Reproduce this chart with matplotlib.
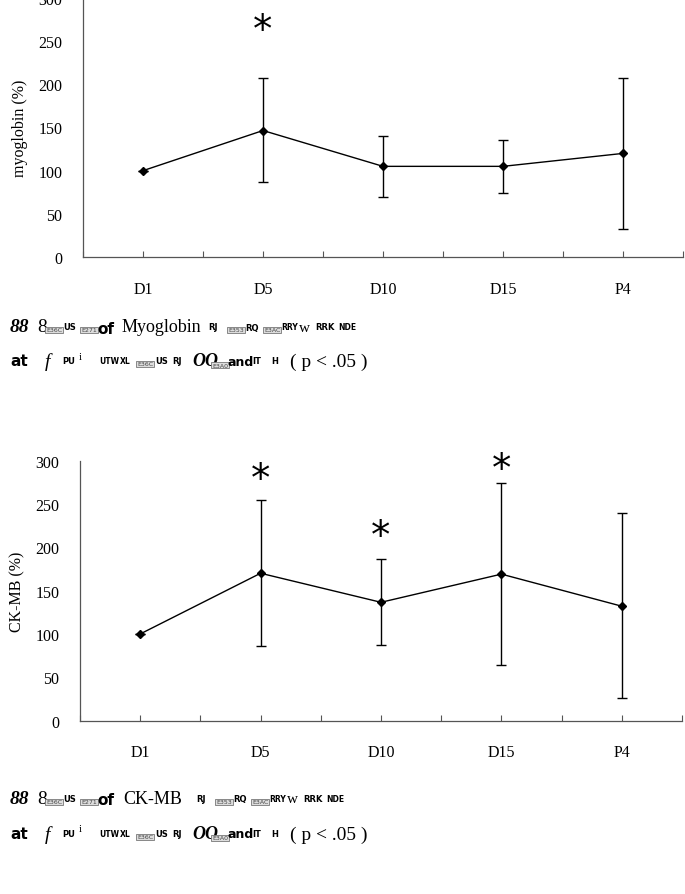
import numpy as np
import matplotlib
matplotlib.use('agg')
import matplotlib.pyplot as plt

## data
days = ["D1", "D5", "D10", "D15", "P4"]

myo_mean = [100, 146.5, 105, 105, 120]
myo_hi = [100, 207, 140, 136, 207]
myo_lo = [100, 87, 70, 74, 32]
myo_star = {"D5": 271}

ck_mean = [100, 170, 136.5, 169, 132]
ck_hi = [100, 255, 186, 274, 240]
ck_lo = [100, 86, 87.5, 64, 26]
ck_star = {"D5": 287, "D10": 221, "D15": 298}

W, H = 685, 895
serif = "Liberation Serif"

fig = plt.figure(figsize=(W/100, H/100), dpi=100)

def panel(rect, mean, hi, lo, stars, ylabel):
    ax = fig.add_axes(rect)
    x = np.arange(len(days))
    mean = np.array(mean); hi = np.array(hi); lo = np.array(lo)
    yerr = np.vstack([mean - lo, hi - mean])
    ax.errorbar(x, mean, yerr=yerr, color='black', lw=1.0, elinewidth=1.0,
                capsize=3.5, capthick=1.0, marker='D', markersize=4.2)
    ax.set_xlim(-0.5, len(days) - 0.5)
    ax.set_ylim(0, 300)
    ax.set_yticks(range(0, 301, 50))
    ax.set_xticks(x)
    ax.set_xticks(np.arange(-0.5, len(days), 1.0), minor=True)
    ax.set_xticklabels(days, fontfamily=serif, fontsize=11.5)
    for lab in ax.get_yticklabels():
        lab.set_fontfamily(serif); lab.set_fontsize(11.5)
    ax.tick_params(axis='x', which='both', direction='in', length=4, width=0.8, color='#555555', pad=17)
    ax.tick_params(axis='y', length=0, pad=15)
    ax.spines['top'].set_visible(False)
    ax.spines['right'].set_visible(False)
    for s in ('left', 'bottom'):
        ax.spines[s].set_color('#555555'); ax.spines[s].set_linewidth(0.9)
    ax.set_ylabel(ylabel, fontfamily=serif, fontsize=11.5, labelpad=7)
    # asterisk glyph sits high in its box, nudge down so its centre lands on ys
    for d, ys in stars.items():
        ax.annotate("*", (days.index(d), ys), xytext=(0, -5), textcoords='offset points',
                    ha='center', va='center', fontsize=28, fontfamily='DejaVu Sans')
    return ax

ax1 = panel([83/W, 1 - 258/H, 600/W, 259/H], myo_mean, myo_hi, myo_lo, myo_star, "myoglobin (%)")
ax2 = panel([80/W, 1 - 721.7/H, 602/W, 260.2/H], ck_mean, ck_hi, ck_lo, ck_star, "CK-MB (%)")

# captions (garbled glyph runs kept as in the source image)
def t(x, y, s, **kw):
    kw.setdefault('fontsize', 10)
    kw.setdefault('va', 'center')
    fig.text(x/W, 1 - y/H, s, **kw)

def g(x, y, s, size=6.5):
    t(x, y, s, fontsize=size, fontweight='bold')

def boxcode(x, y, s):
    fig.text(x/W, 1 - y/H, s, fontsize=4.5, va='center', color='#444444',
             bbox=dict(boxstyle='square,pad=0.15', fc='#dddddd', ec='#777777', lw=0.6))

def caption(y1, y2, name, nx, rx):
    t(10, y1, "88", fontfamily=serif, fontweight='bold', style='italic', fontsize=14)
    t(37, y1, "8", fontfamily=serif, fontsize=14)
    boxcode(46, y1 + 3, "E36C")
    g(63, y1, "US", 6)
    boxcode(81, y1 + 3, "E271")
    t(97, y1 + 1, "of", fontsize=11, fontweight='bold')
    t(nx, y1, name, fontfamily=serif, fontsize=13)
    g(rx, y1, "RJ", 6)
    boxcode(rx + 20, y1 + 3, "E353")
    g(rx + 37, y1, "RQ", 6)
    boxcode(rx + 56, y1 + 3, "E3AC")
    g(rx + 73, y1, "RRY", 5.5)
    t(rx + 91, y1, "w", fontfamily=serif, fontsize=11)
    g(rx + 107, y1, "RRK", 6)
    g(rx + 130, y1, "NDE", 5.5)

    t(10, y2, "at", fontsize=11, fontweight='bold')
    t(45, y2, "f", fontfamily=serif, style='italic', fontsize=14)
    g(62, y2, "PU", 6)
    t(79, y2 - 5, "i", fontfamily=serif, fontsize=8)
    g(99, y2, "UTW", 5.5)
    g(120, y2, "XL", 5.5)
    boxcode(137, y2 + 3, "E36C")
    g(155, y2, "US", 6)
    g(172, y2, "RJ", 6)
    t(192, y2, "OO", fontfamily=serif, fontweight='bold', style='italic', fontsize=13)
    boxcode(212, y2 + 4, "E3A0")
    t(227, y2, "and", fontsize=9, fontweight='bold')
    g(252, y2, "IT", 6)
    g(271, y2, "H", 6)
    t(290, y2, "( p < .05 )", fontfamily=serif, fontsize=14)

caption(328, 362, "Myoglobin", 122, 208)
caption(800, 835, "CK-MB", 123, 196)

fig.savefig('out.png', dpi=100)
